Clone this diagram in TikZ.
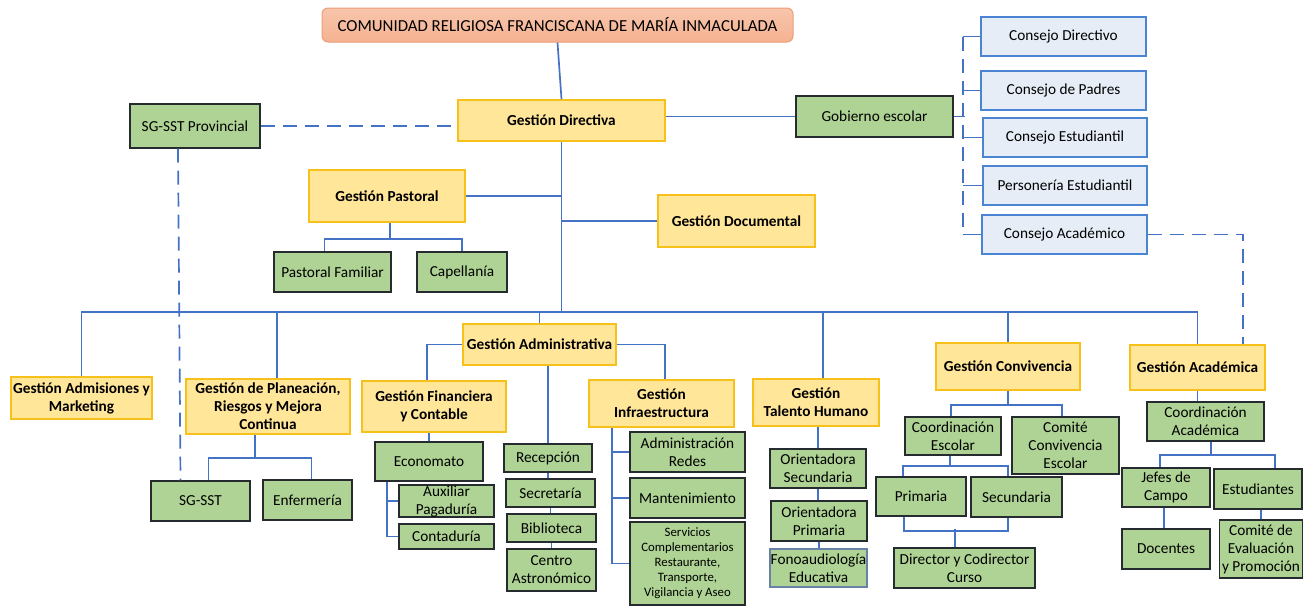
\documentclass[tikz,border=0pt]{standalone}
\usepackage{fontspec}
\setmainfont{Carlito}
\usepackage{tikz}
\usetikzlibrary{calc}

\definecolor{linea}{HTML}{4472C4}
\definecolor{amarillo}{HTML}{FFE699}
\definecolor{oro}{HTML}{F5C11A}
\definecolor{verde}{HTML}{AED394}
\definecolor{borde}{HTML}{262B30}
\definecolor{celeste}{HTML}{E6EDF7}
\definecolor{azul}{HTML}{4A84D2}
\definecolor{salmon}{HTML}{F5B291}
\definecolor{salmonb}{HTML}{EE9E78}

\begin{document}
\begin{tikzpicture}[x=1pt, y=-1pt,
    every node/.style={inner sep=0pt, align=center, font=\fontsize{15.3}{18}\selectfont},
    head/.style={rectangle, rounded corners=6pt, draw=salmonb, line width=1pt,
      top color=salmon!75!white, bottom color=salmon, font=\fontsize{16.8}{18}\selectfont},
    area/.style={rectangle, draw=oro, line width=1.6pt, fill=amarillo, font=\fontsize{15.3}{18}\selectfont\bfseries},
    sub/.style={rectangle, draw=borde, line width=1.4pt, fill=verde},
    board/.style={rectangle, draw=azul, line width=1.4pt, fill=celeste},
    link/.style={draw=linea, line width=1.7pt},
    dlink/.style={link, dash pattern=on 14pt off 8pt}]

  \useasboundingbox (0,0) rectangle (1304,606);

  \node[head, minimum width=471, minimum height=34] (T) at (557.5,25) {COMUNIDAD RELIGIOSA FRANCISCANA DE MARÍA INMACULADA};
  \node[area, minimum width=207, minimum height=41] (GD) at (561.5,120.5) {Gestión Directiva};
  \node[sub, minimum width=130, minimum height=44] (SGP) at (195,126) {SG-SST Provincial};
  \node[sub, minimum width=157, minimum height=41] (GE) at (874.5,116.5) {Gobierno escolar};

  \node[board, minimum width=165, minimum height=39] (CD) at (1063.5,36.5) {Consejo Directivo};
  \node[board, minimum width=165, minimum height=39] (CP) at (1063.5,90.5) {Consejo de Padres};
  \node[board, minimum width=164, minimum height=39] (CE) at (1065,137.5) {Consejo Estudiantil};
  \node[board, minimum width=164, minimum height=39] (PE) at (1065,185.5) {Personería Estudiantil};
  \node[board, minimum width=165, minimum height=39] (CA) at (1064.5,234.5) {Consejo Académico};

  \node[area, minimum width=156, minimum height=52] (GP) at (387,196) {Gestión Pastoral};
  \node[area, minimum width=157, minimum height=52] (GDOC) at (736.5,221) {Gestión Documental};
  \node[sub, minimum width=117, minimum height=40] (PF) at (332.5,272) {Pastoral Familiar};
  \node[sub, minimum width=90, minimum height=40] (CAP) at (462,272) {Capellanía};

  \node[area, minimum width=141, minimum height=42] (ADM) at (81.5,398) {Gestión Admisiones y\\Marketing};
  \node[area, minimum width=164, minimum height=55] (PLA) at (268,406.5) {Gestión de Planeación,\\Riesgos y Mejora\\Continua};
  \node[sub, minimum width=99, minimum height=40] (SST) at (200.5,501) {SG-SST};
  \node[sub, minimum width=89, minimum height=40] (ENF) at (307.5,500) {Enfermería};

  \node[area, minimum width=153, minimum height=41] (GAD) at (539.5,344.5) {Gestión Administrativa};
  \node[area, minimum width=144, minimum height=51] (FIN) at (434,406.5) {Gestión Financiera\\y Contable};
  \node[sub, minimum width=108, minimum height=39] (ECO) at (429,461.5) {Economato};
  \node[sub, minimum width=95, minimum height=32] (AUX) at (446.5,501) {Auxiliar\\Pagaduría};
  \node[sub, minimum width=95, minimum height=25] (CON) at (446.5,536.5) {Contaduría};
  \node[sub, minimum width=88, minimum height=28] (REC) at (548,458) {Recepción};
  \node[sub, minimum width=89, minimum height=28] (SEC) at (550.5,493) {Secretaría};
  \node[sub, minimum width=89, minimum height=28] (BIB) at (551.5,528) {Biblioteca};
  \node[sub, minimum width=89, minimum height=42] (CEN) at (551.5,570) {Centro\\Astronómico};
  \node[area, minimum width=145, minimum height=47] (INF) at (661.5,403.5) {Gestión\\Infraestructura};
  \node[sub, minimum width=115, minimum height=40] (RED) at (687.5,452) {Administración\\Redes};
  \node[sub, minimum width=115, minimum height=40] (MAN) at (687.5,498) {Mantenimiento};
  \node[sub, minimum width=115, minimum height=83, font=\fontsize{12.8}{15}\selectfont] (SER) at (687.5,563.5)
    {Servicios\\Complementarios\\Restaurante,\\Transporte,\\Vigilancia y Aseo};

  \node[area, minimum width=126, minimum height=47] (TAL) at (816,402.5) {Gestión\\Talento Humano};
  \node[sub, minimum width=96, minimum height=39] (OS) at (818,468.5) {Orientadora\\Secundaria};
  \node[sub, minimum width=96, minimum height=40] (OP) at (819,521) {Orientadora\\Primaria};
  \node[sub, draw=azul!45!gray, minimum width=97, minimum height=38] (FON) at (818.5,568) {Fonoaudiología\\Educativa};

  \node[area, minimum width=144, minimum height=47] (GC) at (1008,366.5) {Gestión Convivencia};
  \node[sub, minimum width=96, minimum height=38] (CES) at (953,436) {Coordinación\\Escolar};
  \node[sub, minimum width=107, minimum height=57] (CCE) at (1065.5,445.5) {Comité\\Convivencia\\Escolar};
  \node[sub, minimum width=90, minimum height=39] (PRI) at (921,496.5) {Primaria};
  \node[sub, minimum width=91, minimum height=40] (SCU) at (1016.5,497) {Secundaria};
  \node[sub, minimum width=141, minimum height=40] (DIR) at (964.5,568) {Director y Codirector\\Curso};

  \node[area, minimum width=135, minimum height=45] (GA) at (1197.5,367.5) {Gestión Académica};
  \node[sub, minimum width=117, minimum height=39] (CAC) at (1205.5,421.5) {Coordinación\\Académica};
  \node[sub, minimum width=88, minimum height=39] (JEF) at (1166,487.5) {Jefes de\\Campo};
  \node[sub, minimum width=88, minimum height=40] (EST) at (1258,489) {Estudiantes};
  \node[sub, minimum width=88, minimum height=40] (DOC) at (1166,549) {Docentes};
  \node[sub, minimum width=83, minimum height=58] (CEV) at (1261,549) {Comité de\\Evaluación\\y Promoción};

  \coordinate (bus) at (561.5,312);

  \draw[link] (T.south) -- (GD.north);
  \draw[link] (GD.south) -- (bus);
  \draw[link] (ADM.north) |- (bus) -| (GA.north);
  \draw[link] ([xshift=9pt]PLA.north) -- ([xshift=9pt]PLA.north |- bus);
  \draw[link] (GAD.north) -- (GAD.north |- bus);
  \draw[link] ([xshift=7pt]TAL.north) -- ([xshift=7pt]TAL.north |- bus);
  \draw[link] (GC.north) -- (GC.north |- bus);

  \draw[link] (GD.east |- GE.west) -- (GE.west);
  \draw[dlink] (SGP.east) -- (SGP.east -| GD.west);
  \draw[dlink] ([xshift=-17pt]SGP.south) -- ([xshift=-20pt]SST.north);
  \draw[link] (GE.east) -- ++(11,0);
  \draw[dlink] ([xshift=-17pt]CD.west) -- ([xshift=-18pt]CA.west);
  \foreach \n/\d in {CD/17,CP/17,CE/19,PE/19,CA/18}
    \draw[link] (\n.west) -- ++(-\d,0);
  \draw[dlink] (CA.east) -| ([xshift=45.5pt]GA.north);

  \draw[link] (GP.east) -- (GP.east -| GD.south);
  \draw[link] (GDOC.west) -- (GDOC.west -| GD.south);
  \draw[link] ([xshift=3pt]GP.south) -- ++(0,16) -| ([xshift=-8pt]PF.north);
  \draw[link] ([xshift=3pt]GP.south) ++(0,16) -| (CAP.north);

  \draw[link] ([xshift=-13pt]PLA.south) -- ++(0,23) -| ([xshift=8pt]SST.north);
  \draw[link] ([xshift=-13pt]PLA.south) ++(0,23) -| ([xshift=4pt]ENF.north);

  \draw[link] (GAD.west) -| ([xshift=-7pt]FIN.north);
  \draw[link] (GAD.east) -| ([xshift=3.5pt]INF.north);
  \draw[link] (REC.north) -- (REC.north |- GAD.south);
  \draw[link] (ECO.north) -- (ECO.north |- FIN.south);
  \draw[link] ([xshift=-42pt]ECO.south) |- (CON.west);
  \draw[link] (AUX.west) -- ++(-12,0);
  \draw[link] (REC.south) -- (REC.south |- SEC.north);
  \draw[link] (SEC.south) -- (SEC.south |- BIB.north);
  \draw[link] (BIB.south) -- (BIB.south |- CEN.north);
  \draw[link] ([xshift=-49.5pt]INF.south) |- (SER.west);
  \draw[link] (RED.west) -- ++(-18,0);
  \draw[link] (MAN.west) -- ++(-18,0);

  \draw[link] (OS.north) -- (OS.north |- TAL.south);
  \draw[link] (OS.south) -- (OS.south |- OP.north);
  \draw[link] (OP.south) -- (OP.south |- FON.north);

  \draw[link] (GC.south) -- ++(0,14) -| ([xshift=-2pt]CES.north);
  \draw[link] (GC.south) ++(0,14) -| ([xshift=-3.5pt]CCE.north);
  \draw[link] ([xshift=-3pt]CES.south) -- ++(0,10) -| ([xshift=-18pt]PRI.north);
  \draw[link] ([xshift=-3pt]CES.south) ++(0,10) -| ([xshift=-8.5pt]SCU.north);
  \draw[link] ([xshift=-17pt]PRI.south) -- ++(0,14) -| ([xshift=-8.5pt]SCU.south);
  \draw[link] ([xshift=-9.5pt]DIR.north) -- ++(0,-18);

  \draw[link] (GA.south) -- (GA.south |- CAC.north);
  \draw[link] ([xshift=5.5pt]CAC.south) -- ++(0,13) -| ([xshift=-6pt]JEF.north);
  \draw[link] ([xshift=5.5pt]CAC.south) ++(0,13) -| ([xshift=17pt]EST.north);
  \draw[link] ([xshift=-2pt]JEF.south) -- ([xshift=-2pt]DOC.north);
  \draw[link] (CEV.north) -- (CEV.north |- EST.south);

\end{tikzpicture}
\end{document}
